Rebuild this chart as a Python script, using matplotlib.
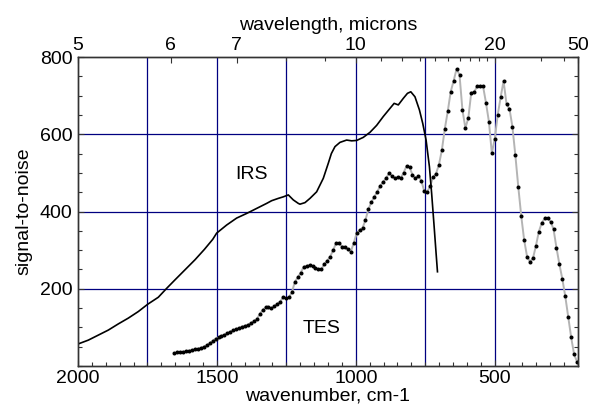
import numpy as np
import matplotlib
matplotlib.use("Agg")
import matplotlib.pyplot as plt
from matplotlib.ticker import FixedLocator, MultipleLocator, NullFormatter

plt.rcParams['font.family'] = ['Liberation Sans', 'DejaVu Sans']

# IRS signal-to-noise (smooth curve), wavenumber cm-1 -> S/N
irs_wn = [2000, 1963, 1927, 1891, 1855, 1819, 1783, 1749, 1711, 1681, 1651,
          1615, 1579, 1545, 1515, 1501, 1465, 1429, 1393, 1357, 1321, 1303, 1279,
          1261, 1243, 1225, 1207, 1201, 1183, 1165, 1141, 1117, 1099, 1088, 1075,
          1057, 1033, 1015, 997, 973, 949, 925, 901, 877, 862, 847, 829, 814,
          802, 787, 771, 759, 747, 735, 727, 718, 711, 706]
irs_sn = [57, 67, 80, 93, 109, 124, 141, 160, 178, 201, 223,
          249, 275, 302, 328, 344, 365, 383, 395, 408, 421, 428, 434,
          438, 443, 430, 421, 419, 423, 434, 451, 486, 525, 550, 568,
          579, 585, 583, 584, 592, 605, 623, 646, 667, 680, 676, 693, 706,
          710, 697, 663, 628, 585, 516, 447, 361, 292, 244]

# TES signal-to-noise, one value per spectral sample (10.58 cm-1 spacing from ~203 cm-1)
tes_start = 203.5
tes_step = 10.58
tes_sn = [11, 30, 74, 128, 180, 225, 263, 306, 354, 374,
          382, 382, 371, 348, 311, 279, 270, 283, 326, 389,
          464, 546, 620, 666, 678, 738, 696, 650, 588, 551,
          633, 682, 725, 725, 725, 709, 708, 642, 616, 663,
          754, 769, 738, 710, 659, 614, 559, 521, 498, 489,
          465, 451, 453, 480, 492, 486, 495, 515, 518, 501,
          486, 489, 486, 492, 499, 486, 477, 466, 451, 438,
          424, 406, 378, 357, 352, 344, 318, 296, 302, 309,
          309, 319, 318, 300, 283, 273, 264, 250, 250, 255,
          259, 261, 259, 257, 242, 230, 218, 192, 178, 175,
          178, 167, 161, 155, 149, 152, 152, 145, 134, 121,
          116, 111, 107, 104, 102, 98, 96, 92, 89, 85,
          81, 78, 74, 71, 65, 59, 54, 50, 47, 45,
          43, 41, 40, 38, 37, 36, 35, 33]
tes_wn = tes_start + tes_step * np.arange(len(tes_sn))

# axis ticks
wn_labels = [2000, 1500, 1000, 500]
grid_x = [1750, 1500, 1250, 1000, 750, 500]
grid_y = [200, 400, 600]
micron_major = [5, 6, 7, 10, 20, 50]
micron_minor = [8, 9, 11, 12, 13, 14, 15, 16, 17, 18, 19, 30, 40]

fig = plt.figure(figsize=(5.92, 4.09), dpi=100)
ax = fig.add_axes([0.1318, 0.1051, 0.8446, 0.7555])

grid_col = '#000080'
for g in grid_x:
    ax.axvline(g, color=grid_col, lw=0.9, zorder=1)
for g in grid_y:
    ax.axhline(g, color=grid_col, lw=0.9, zorder=1)

ax.plot(tes_wn, tes_sn, color='#b4b4b4', lw=1.4, zorder=2)
ax.plot(tes_wn, tes_sn, 'o', color='black', ms=2.9, mec='none', zorder=3)
ax.plot(irs_wn, irs_sn, color='black', lw=1.2, zorder=4)

ax.text(1374, 497, 'IRS', fontsize=14, ha='center', va='center')
ax.text(1122, 98, 'TES', fontsize=14, ha='center', va='center')

ax.set_xlim(2000, 200)
ax.set_ylim(0, 800)
ax.set_xticks(wn_labels)
ax.xaxis.set_minor_locator(MultipleLocator(50))
ax.set_yticks([200, 400, 600, 800])
ax.yaxis.set_minor_locator(MultipleLocator(50))
ax.tick_params(which='both', direction='in', labelsize=14, right=True,
               top=False, color='#333333')
ax.tick_params(which='major', length=4, width=0.8)
ax.tick_params(which='minor', length=3, width=0.8)
ax.tick_params(axis='y', pad=4)
ax.tick_params(axis='x', pad=3)
ax.set_xlabel('wavenumber, cm-1', fontsize=14, labelpad=0)
ax.set_ylabel('signal-to-noise', fontsize=14, labelpad=5)

ax2 = ax.twiny()
ax2.set_xlim(ax.get_xlim())
ax2.xaxis.set_major_locator(FixedLocator([10000 / m for m in micron_major]))
ax2.set_xticklabels([str(m) for m in micron_major])
ax2.xaxis.set_minor_locator(FixedLocator([10000 / m for m in micron_minor]))
ax2.xaxis.set_minor_formatter(NullFormatter())
ax2.tick_params(which='both', direction='in', labelsize=14, pad=2,
                color='#333333')
ax2.tick_params(which='major', length=4, width=0.8)
ax2.tick_params(which='minor', length=3, width=0.8)
ax2.set_xlabel('wavelength, microns', fontsize=14, labelpad=5)

for a in (ax, ax2):
    for s in a.spines.values():
        s.set_color('#333333')
        s.set_linewidth(1.0)

fig.savefig('out.png', dpi=100)
